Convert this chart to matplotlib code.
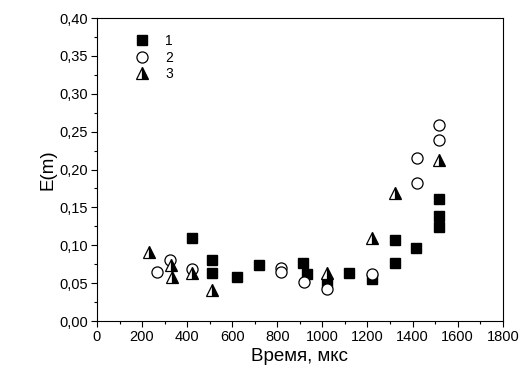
import matplotlib.pyplot as plt
from matplotlib.ticker import MultipleLocator

plt.rcParams['font.family'] = ['Liberation Sans', 'DejaVu Sans']

# серия 1 - квадраты
x1 = [422, 509, 509, 621, 720, 912, 931, 1019, 1120, 1221, 1320, 1320, 1413, 1518, 1518, 1518]
y1 = [0.109, 0.081, 0.063, 0.058, 0.074, 0.077, 0.062, 0.052, 0.063, 0.056, 0.107, 0.077, 0.096, 0.161, 0.138, 0.124]

# серия 2 - круги
x2 = [268, 326, 422, 817, 817, 919, 1019, 1221, 1418, 1418, 1518, 1518]
y2 = [0.065, 0.080, 0.069, 0.070, 0.065, 0.051, 0.042, 0.062, 0.215, 0.182, 0.259, 0.239]

# серия 3 - треугольники
x3 = [230, 330, 335, 422, 509, 1019, 1219, 1320, 1518]
y3 = [0.091, 0.074, 0.058, 0.063, 0.041, 0.063, 0.109, 0.169, 0.2125]

fig = plt.figure(figsize=(5.27, 3.79), dpi=100)
ax = fig.add_axes([0.184, 0.153, 0.770, 0.7995])

ax.plot(x1, y1, 's', color='black', markersize=7.5, label='1', linestyle='none')
ax.plot(x2, y2, 'o', markerfacecolor='white', markeredgecolor='black',
        markeredgewidth=0.9, markersize=8, label='2', linestyle='none')
ax.plot(x3, y3, '^', markerfacecolor='black', markerfacecoloralt='white',
        fillstyle='right', markeredgecolor='black', markeredgewidth=0.9,
        markersize=8.5, label='3', linestyle='none')

ax.set_xlim(0, 1800)
ax.set_ylim(0, 0.40)
ax.xaxis.set_major_locator(MultipleLocator(200))
ax.xaxis.set_minor_locator(MultipleLocator(100))
ax.yaxis.set_major_locator(MultipleLocator(0.05))
ax.yaxis.set_minor_locator(MultipleLocator(0.025))
ax.yaxis.set_major_formatter(lambda v, p: f"{v:.2f}".replace('.', ','))

ax.tick_params(which='major', direction='out', length=4, width=0.8, labelsize=10.5, pad=2.5)
ax.tick_params(which='minor', direction='out', length=2.5, width=0.8)
for s in ax.spines.values():
    s.set_linewidth(0.8)

ax.set_xlabel('Время, мкс', fontsize=13.5, labelpad=3)
ax.set_ylabel('E(m)', fontsize=13.5, labelpad=2)

ax.legend(loc='upper left', bbox_to_anchor=(0.058, 0.983), frameon=False,
          fontsize=10, handletextpad=0.9, labelspacing=0.18, borderpad=0.3,
          handlelength=1.5)

fig.savefig('out.png', dpi=100)
